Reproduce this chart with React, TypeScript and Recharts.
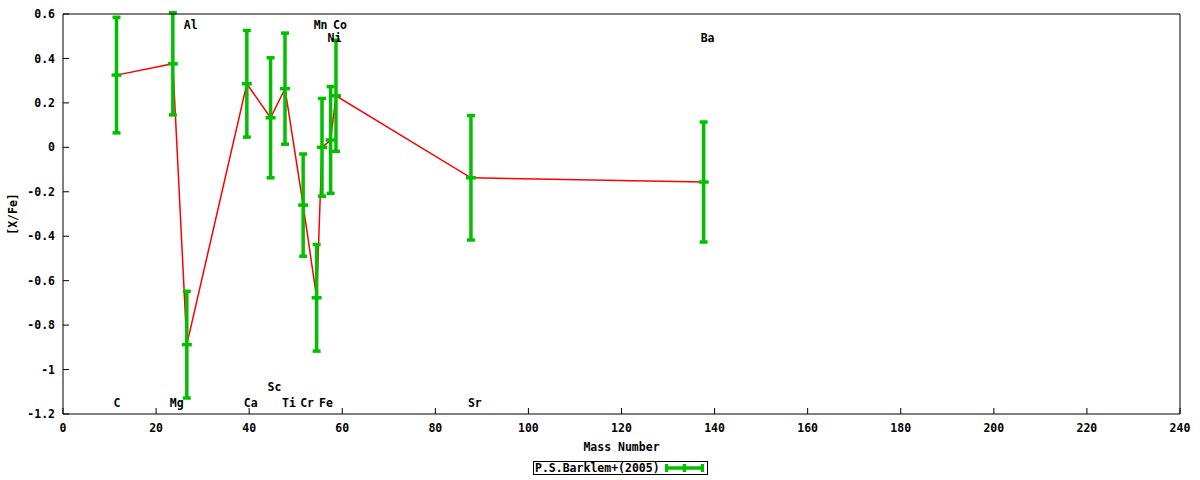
import { ComposedChart, Line, Scatter, ErrorBar, XAxis, YAxis, Legend } from "recharts";

const elements = ["C", "Mg", "Al", "Ca", "Sc", "Ti", "Cr", "Mn", "Fe", "Ni", "Co", "Sr", "Ba"];
const massNumber = [11.5, 23.6, 26.6, 39.5, 44.6, 47.7, 51.6, 54.5, 55.65, 57.5, 58.65, 87.65, 137.65];
const xFe = [0.325, 0.376, -0.888, 0.286, 0.133, 0.264, -0.26, -0.677, 0.0, 0.033, 0.232, -0.137, -0.156];
const xFeErr = [0.26, 0.23, 0.24, 0.24, 0.27, 0.25, 0.23, 0.24, 0.22, 0.24, 0.25, 0.28, 0.27];
// where each element's name is written, in [X/Fe] units
const labelY = [-1.15, -1.15, 0.55, -1.15, -1.08, -1.15, -1.15, 0.55, -1.15, 0.49, 0.55, -1.15, 0.49];

const xTicks = [0, 20, 40, 60, 80, 100, 120, 140, 160, 180, 200, 220, 240];
const yTicks = [0.6, 0.4, 0.2, 0, -0.2, -0.4, -0.6, -0.8, -1, -1.2];

const seriesName = "P.S.Barklem+(2005)";

const points = massNumber.map((x, i) => ({ x, y: xFe[i], err: xFeErr[i] }));
const labels = massNumber.map((x, i) => ({ x, y: labelY[i], name: elements[i] }));

const FONT = "'DejaVu Sans Mono', monospace";
const GREEN = "#00c000";
const RED = "#ff0000";
const tickStyle = { fill: "#000", fontSize: 11.5, fontWeight: "bold", fontFamily: FONT };

const fmt = (v: number) => String(Math.round(v * 10) / 10);

function CenterMark(props: any) {
  const { cx, cy } = props;
  return <line x1={cx - 5} x2={cx + 5} y1={cy} y2={cy} stroke={GREEN} strokeWidth={3.5} />;
}

function ElementLabel(props: any) {
  const { cx, cy, payload } = props;
  return (
    <text x={cx - 3} y={cy} dominantBaseline="central" textAnchor="start" style={tickStyle}>
      {payload.name}
    </text>
  );
}

function LegendBox() {
  return (
    <div
      style={{
        display: "flex",
        alignItems: "center",
        border: "1px solid #000",
        height: 12,
        padding: "0 3px 0 1px",
        background: "#fff",
        fontFamily: FONT,
        fontSize: 11.5,
        fontWeight: "bold",
        lineHeight: "12px",
        whiteSpace: "nowrap",
      }}
    >
      <span>{seriesName}</span>
      <svg width={39} height={12} style={{ marginLeft: 5 }}>
        <line x1={1.5} x2={37.5} y1={6} y2={6} stroke={GREEN} strokeWidth={3.5} />
        <line x1={1.5} x2={1.5} y1={2} y2={10} stroke={GREEN} strokeWidth={3.5} />
        <line x1={37.5} x2={37.5} y1={2} y2={10} stroke={GREEN} strokeWidth={3.5} />
        <line x1={19.5} x2={19.5} y1={2} y2={10} stroke={GREEN} strokeWidth={3.5} />
      </svg>
    </div>
  );
}

export default function App() {
  return (
    <div style={{ position: "absolute", left: 0, top: 0, width: 1200, height: 480, background: "#fff", fontFamily: FONT }}>
      <ComposedChart width={1200} height={480} data={points} margin={{ top: 13, right: 19, bottom: 0, left: 0 }}>
        <XAxis
          dataKey="x"
          type="number"
          domain={[0, 240]}
          ticks={xTicks}
          allowDataOverflow
          height={66}
          tickSize={-6}
          tickMargin={16}
          tick={tickStyle}
          tickFormatter={fmt}
          stroke="#000"
          label={{ value: "Mass Number", position: "insideBottom", offset: 29, style: tickStyle }}
        />
        <XAxis xAxisId="top" orientation="top" type="number" domain={[0, 240]} ticks={xTicks} allowDataOverflow height={1} tickSize={-6} tick={false} stroke="#000" />
        <YAxis
          dataKey="y"
          type="number"
          domain={[-1.2, 0.6]}
          ticks={yTicks}
          allowDataOverflow
          width={63}
          tickSize={-6}
          tickMargin={14}
          tick={tickStyle}
          tickFormatter={fmt}
          stroke="#000"
          label={{ value: "[X/Fe]", angle: -90, position: "insideLeft", offset: 13, style: { ...tickStyle, textAnchor: "middle" } }}
        />
        <YAxis yAxisId="right" orientation="right" type="number" domain={[-1.2, 0.6]} ticks={yTicks} allowDataOverflow width={1} tickSize={-6} tick={false} stroke="#000" />
        <Line dataKey="y" type="linear" stroke={RED} strokeWidth={1.5} dot={false} activeDot={false} isAnimationActive={false} />
        <Scatter data={points} dataKey="y" shape={CenterMark} isAnimationActive={false}>
          <ErrorBar dataKey="err" direction="y" width={4} stroke={GREEN} strokeWidth={3.5} isAnimationActive={false} />
        </Scatter>
        <Scatter data={labels} dataKey="y" shape={ElementLabel} isAnimationActive={false} />
        <Legend layout="vertical" verticalAlign="middle" align="center" wrapperStyle={{ top: 461, left: 533, width: "auto", height: "auto" }} content={LegendBox} />
      </ComposedChart>
    </div>
  );
}
